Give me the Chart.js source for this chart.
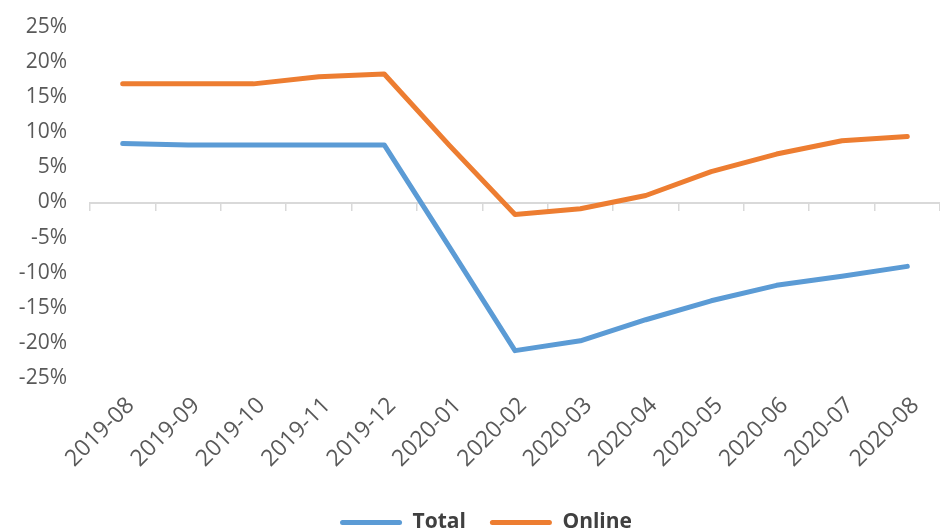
<!DOCTYPE html>
<html>
<head>
<meta charset="utf-8">
<script src="https://cdn.jsdelivr.net/npm/chart.js@4.4.1/dist/chart.umd.min.js"></script>
<style>
  html, body { margin: 0; padding: 0; background: #ffffff; }
  #wrap { width: 940px; height: 531px; position: relative; }
</style>
</head>
<body>
<div id="wrap"><canvas id="c" width="940" height="531"></canvas></div>
<script>
const categories = ['2019-08','2019-09','2019-10','2019-11','2019-12','2020-01','2020-02','2020-03','2020-04','2020-05','2020-06','2020-07','2020-08'];
const totalValues = [8.4, 8.2, 8.2, 8.2, 8.2, -6.4, -21.1, -19.7, -16.7, -14.0, -11.8, -10.5, -9.1];
const onlineValues = [16.9, 16.9, 16.9, 17.9, 18.3, 8.1, -1.7, -0.9, 1.0, 4.4, 6.9, 8.8, 9.4];
const yTicks = [25, 20, 15, 10, 5, 0, -5, -10, -15, -20, -25];

const labelFont = { family: 'Open Sans', size: 21 };
const xLabelFont = { family: 'Open Sans', size: 23 };
const gray = '#595959';

const legendShift = {
  id: 'legendShift',
  afterLayout(chart) {
    if (chart.legend) { chart.legend.left += 16; chart.legend.right += 16; }
  }
};

new Chart(document.getElementById('c'), {
  type: 'line',
  data: {
    labels: categories,
    datasets: [
      { label: 'Total', data: totalValues, borderColor: '#5B9BD5', backgroundColor: '#5B9BD5',
        borderWidth: 5, pointRadius: 0, tension: 0, borderCapStyle: 'round', borderJoinStyle: 'round', xAxisID: 'x' },
      { label: 'Online', data: onlineValues, borderColor: '#ED7D31', backgroundColor: '#ED7D31',
        borderWidth: 5, pointRadius: 0, tension: 0, borderCapStyle: 'round', borderJoinStyle: 'round', xAxisID: 'x' }
    ]
  },
  plugins: [legendShift],
  options: {
    responsive: false,
    animation: false,
    layout: { padding: { top: 27, left: 0, right: 0, bottom: -12 } },
    plugins: {
      tooltip: { enabled: false },
      legend: {
        position: 'bottom',
        labels: {
          boxWidth: 62, boxHeight: 5, padding: 24,
          color: '#404040',
          font: { family: 'Open Sans', size: 21, weight: 'bold' },
          generateLabels: (chart) => Chart.defaults.plugins.legend.labels.generateLabels(chart)
            .map(l => Object.assign(l, { lineWidth: 0, borderRadius: 2.5 }))
        }
      }
    },
    scales: {
      x: {
        type: 'category',
        position: { y: 0 },
        offset: true,
        grid: { display: true, drawOnChartArea: false, drawTicks: true, tickLength: 7, color: '#d9d9d9', lineWidth: 1.5, offset: true },
        border: { display: true, color: '#d9d9d9', width: 2 },
        ticks: { display: false }
      },
      x2: {
        type: 'category',
        position: 'bottom',
        labels: categories,
        offset: true,
        grid: { display: false, drawTicks: false },
        border: { display: false },
        ticks: { color: gray, font: xLabelFont, minRotation: 45, maxRotation: 45, padding: 14, labelOffset: 8, autoSkip: false },
        afterFit: (s) => { s.height = 110; s.paddingLeft = 0; s.paddingRight = 0; }
      },
      y: {
        type: 'linear',
        min: -25, max: 25,
        afterBuildTicks: (s) => { s.ticks = yTicks.map(v => ({ value: v })); },
        grid: { display: false, drawTicks: false },
        border: { display: false },
        ticks: { color: gray, font: labelFont, padding: 23, callback: (v) => v + '%' },
        afterFit: (s) => { s.width = 90; s.paddingTop = 0; s.paddingBottom = 0; }
      }
    }
  }
});
</script>
</body>
</html>
